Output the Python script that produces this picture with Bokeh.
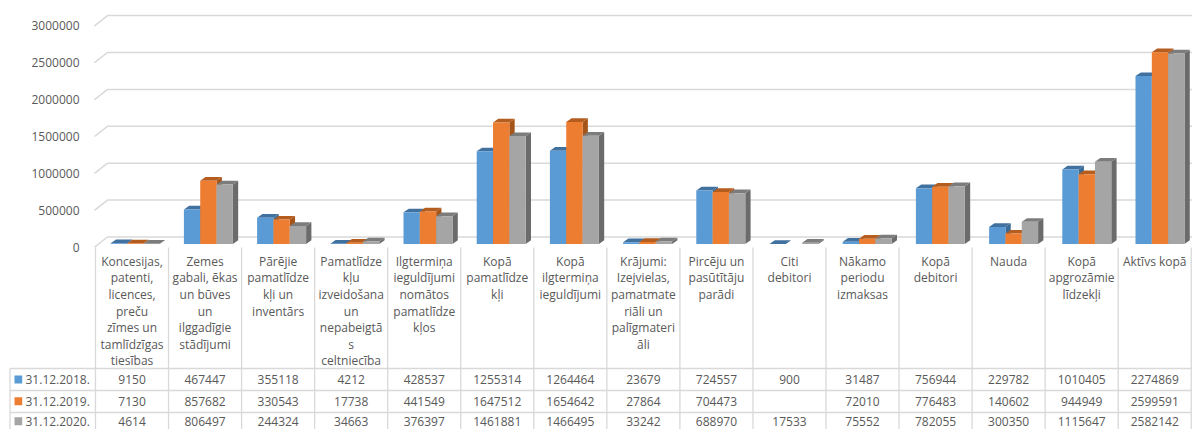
from bokeh.plotting import figure
from bokeh.embed import file_html
from bokeh.resources import INLINE
from bokeh.core.properties import value
from bokeh.models import FixedTicker, NumeralTickFormatter, Range1d

categories = [
    ["Koncesijas,", "patenti,", "licences,", "preču", "zīmes un", "tamlīdzīgas", "tiesības"],
    ["Zemes", "gabali, ēkas", "un būves", "un", "ilggadīgie", "stādījumi"],
    ["Pārējie", "pamatlīdze", "kļi un", "inventārs"],
    ["Pamatlīdze", "kļu", "izveidošana", "un", "nepabeigtā", "s", "celtniecība"],
    ["Ilgtermiņa", "ieguldījumi", "nomātos", "pamatlīdze", "kļos"],
    ["Kopā", "pamatlīdze", "kļi"],
    ["Kopā", "ilgtermiņa", "ieguldījumi"],
    ["Krājumi:", "Izejvielas,", "pamatmate", "riāli un", "palīgmateri", "āli"],
    ["Pircēju un", "pasūtītāju", "parādi"],
    ["Citi", "debitori"],
    ["Nākamo", "periodu", "izmaksas"],
    ["Kopā", "debitori"],
    ["Nauda"],
    ["Kopā", "apgrozāmie", "līdzekļi"],
    ["Aktīvs kopā"],
]
series_names = ["31.12.2018.", "31.12.2019.", "31.12.2020."]
v2018 = [9150, 467447, 355118, 4212, 428537, 1255314, 1264464, 23679, 724557, 900, 31487, 756944, 229782, 1010405, 2274869]
v2019 = [7130, 857682, 330543, 17738, 441549, 1647512, 1654642, 27864, 704473, None, 72010, 776483, 140602, 944949, 2599591]
v2020 = [4614, 806497, 244324, 34663, 376397, 1461881, 1466495, 33242, 688970, 17533, 75552, 782055, 300350, 1115647, 2582142]
y_ticks = [0, 500000, 1000000, 1500000, 2000000, 2500000, 3000000]

front = ["#5B9BD5", "#ED7D31", "#A5A5A5"]
top_c = ["#41719F", "#B55D1F", "#7C7C7C"]
side_c = ["#3A6A96", "#A65519", "#6B6B6B"]
GRID = "#D9D9D9"
TXT = "#595959"
FONT = value("Open Sans")

# pixel geometry -> data conversion
W, H = 1192, 429
X0, CW = 95.0, 73.05          # page x of column 0 edge, column width
Y0, PM = 246.7, 73.8 / 1e6    # page y of value 0 on the axis, px per value unit
def dx(px): return px / CW
def dy(px): return px / PM
def X(px): return (px - X0) / CW
def Y(px): return (Y0 - px) / PM

p = figure(width=W, height=H, output_backend="svg", toolbar_location=None,
           x_range=Range1d(X(0), X(W)), y_range=Range1d(Y(H), Y(0)),
           min_border=0, min_border_left=0, min_border_right=0, min_border_top=0, min_border_bottom=0,
           outline_line_color=None, x_axis_type=None)
p.grid.visible = False
ax = p.yaxis[0]
ax.fixed_location = X(94)
ax.ticker = FixedTicker(ticks=y_ticks)
ax.formatter = NumeralTickFormatter(format="0")
ax.axis_line_color = None
ax.major_tick_line_color = None
ax.minor_tick_line_color = None
ax.major_label_standoff = 9
ax.major_label_text_font = "Open Sans"
ax.major_label_text_font_size = "12px"
ax.major_label_text_color = TXT

# back wall grid lines
xs, ys = [], []
for t in y_ticks:
    xs.append([X(94), X(107), X(1192)])
    ys.append([t, t + dy(10.2), t + dy(10.2)])
p.multi_line(xs, ys, line_color=GRID, line_width=1.5)

# bars
BASE = dy(3.2)
BW = dx(16.33)
START = dx(15.2)
PITCH = 73.2 / 73.05
DX, DY = dx(5.3), dy(3.7)
for s, vals in enumerate([v2018, v2019, v2020]):
    sx, sy, tx, ty, l, r, t_, b = [], [], [], [], [], [], [], []
    for i, v in enumerate(vals):
        if v is None:
            continue
        x0 = i * PITCH + START + s * BW
        x1 = x0 + BW
        top = BASE + v
        sx.append([x1, x1 + DX, x1 + DX, x1])
        sy.append([BASE, BASE + DY, top + DY, top])
        tx.append([x0, x0 + DX, x1 + DX, x1])
        ty.append([top, top + DY, top + DY, top])
        l.append(x0); r.append(x1); t_.append(top); b.append(BASE)
    p.patches(sx, sy, fill_color=side_c[s], line_color=None)
    p.patches(tx, ty, fill_color=top_c[s], line_color=None)
    p.quad(left=l, right=r, top=t_, bottom=b, fill_color=front[s], line_color=None)

# data table
ROWS = [368.0, 390.0, 412.0, 434.0]
CENT = [379.0, 400.8, 420.8]
TL = X(9.5)
vx, vy = [], []
for i in range(16):
    vx.append([i, i]); vy.append([Y(247), Y(434)])
vx.append([TL, TL]); vy.append([Y(368), Y(434)])
for r_ in ROWS:
    vx.append([TL, 15]); vy.append([Y(r_), Y(r_)])
p.multi_line(vx, vy, line_color=GRID, line_width=1.3)

# category labels, line by line
cx, cy, ct = [], [], []
for i, lines in enumerate(categories):
    for j, ln in enumerate(lines):
        cx.append(i + 0.5); cy.append(Y(260.7 + j * 16.6)); ct.append(ln)
p.text(cx, cy, text=ct, text_font=FONT, text_font_size="12px", text_color=TXT,
       text_align="center", text_baseline="middle")

# table values and row headers
tx_, ty_, tt = [], [], []
for s, vals in enumerate([v2018, v2019, v2020]):
    for i, v in enumerate(vals):
        if v is None:
            continue
        tx_.append(i + 0.5); ty_.append(Y(CENT[s])); tt.append(str(v))
p.text(tx_, ty_, text=tt, text_font=FONT, text_font_size="12px", text_color=TXT,
       text_align="center", text_baseline="middle")
p.text([X(25)] * 3, [Y(c) for c in CENT], text=series_names, text_font=FONT, text_font_size="12px",
       text_color=TXT, text_align="left", text_baseline="middle")
p.quad(left=[X(14)] * 3, right=[X(21.7)] * 3,
       top=[Y(c - 4) for c in CENT], bottom=[Y(c + 4) for c in CENT],
       fill_color=front, line_color=None)

open("out.html", "w").write(file_html(p, INLINE))
